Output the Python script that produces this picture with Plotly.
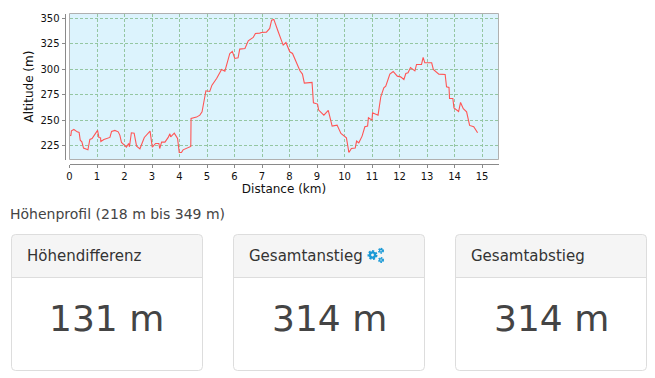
import plotly.graph_objects as go

distance_km = [0.00,0.05,0.07,0.16,0.28,0.35,0.39,0.45,0.51,0.62,0.67,0.74,0.82,1.02,1.07,1.13,1.14,1.25,1.47,1.53,1.65,1.77,1.83,1.89,2.07,2.15,2.18,2.25,2.35,2.44,2.56,2.72,2.93,3.01,3.13,3.25,3.28,3.35,3.47,3.59,3.65,3.68,3.81,3.93,3.99,4.07,4.13,4.41,4.42,4.62,4.74,4.82,4.96,5.10,5.18,5.35,5.53,5.65,5.83,5.92,6.01,6.13,6.19,6.38,6.50,6.68,6.76,6.92,6.98,7.16,7.28,7.35,7.43,7.59,7.77,7.87,8.01,8.11,8.25,8.38,8.47,8.54,8.82,8.87,9.02,9.06,9.25,9.41,9.55,9.73,9.87,10.07,10.16,10.25,10.39,10.44,10.52,10.64,10.74,10.84,10.87,11.00,11.02,11.22,11.32,11.43,11.50,11.65,11.77,11.92,12.04,12.16,12.23,12.31,12.40,12.56,12.62,12.80,12.86,12.92,13.17,13.23,13.43,13.66,13.71,13.80,13.82,13.94,13.98,14.15,14.22,14.32,14.44,14.55,14.70,14.84]
altitude_m = [234.5,235,239.4,240.7,238.4,237.8,230.2,228.6,222.4,221.4,220.7,230.9,231.9,239.8,232.9,232.5,228.9,230.9,232.9,238.8,239.8,238.4,235.2,228,223.4,227,223.7,237.5,237.1,224.3,221.7,232.9,239.1,223.4,227,227,222,228.3,228.3,232.9,236.5,233.5,237.1,231.9,218.1,218.1,220.7,224,251.6,252.9,254.8,258.1,278.8,278.1,284.3,290.9,299.8,298.1,315.5,317.5,310.6,311.2,319.8,320.4,328,331.2,335.2,335.5,336.1,336.5,340.1,348.3,349,336.8,323.7,326.3,317.1,315.5,305.7,298.4,295.2,286.3,287,267,265.7,259.8,254.8,259.4,244,245,236.8,232.5,218.1,222,222.4,229.3,227.6,234.2,243.4,244,252.2,249.9,257.1,254.8,272.9,281.7,283.4,295.2,297.8,293.2,292.5,289.9,295.8,296.5,301.7,298.4,304.7,304.7,311.6,306.3,306.3,299.8,295.2,294.8,282.7,282,271.2,271.2,262,258.4,267.3,261.1,258.1,244.7,243.4,237.5]
x_ticks = list(range(0, 16))
y_ticks = [225, 250, 275, 300, 325, 350]
profile_title = "Höhenprofil (218 m bis 349 m)"
card_titles = ["Höhendifferenz", "Gesamtanstieg", "Gesamtabstieg"]
card_values = ["131 m", "314 m", "314 m"]

W, H = 655, 378
FONT = "DejaVu Sans"
fx = lambda p: p / W
fy = lambda p: 1 - p / H

fig = go.Figure(go.Scatter(x=distance_km, y=altitude_m, mode="lines",
                           line=dict(color="#ff5555", width=1.1), hoverinfo="skip"))

axis_common = dict(showline=True, linecolor="#8a8a8a", linewidth=1, ticks="outside", ticklen=3,
                   tickcolor="#8a8a8a", showgrid=True, gridcolor="#94c6a2", griddash="3px,2px",
                   gridwidth=1, zeroline=False, automargin=False,
                   tickfont=dict(family=FONT, size=10, color="#111"),
                   title_font=dict(family=FONT, size=12, color="#111"))
fig.update_layout(
    width=W, height=H, margin=dict(l=0, r=0, t=0, b=0), autosize=False,
    paper_bgcolor="white", plot_bgcolor="#dcf3fd", showlegend=False,
    font=dict(family=FONT),
    xaxis=dict(domain=[fx(69.5), fx(498.5)], range=[0, 15.6], tickvals=x_ticks, anchor="free",
               position=fy(164), title=dict(text="Distance (km)", standoff=3), **axis_common),
    yaxis=dict(domain=[fy(159.5), fy(13.5)], range=[211.2, 354.8], tickvals=y_ticks, anchor="free",
               position=fx(64.5), title=dict(text="Altitude (m)", standoff=3), **axis_common),
)
fig.add_shape(type="rect", xref="x domain", yref="y domain", x0=0, x1=1, y0=0, y1=1,
              line=dict(color="#b0b0b0", width=1), layer="above")

def rr(x0, y0, x1, y1, r=4):
    return (f"M{fx(x0+r)},{fy(y0)} L{fx(x1-r)},{fy(y0)} Q{fx(x1)},{fy(y0)} {fx(x1)},{fy(y0+r)} "
            f"L{fx(x1)},{fy(y1-r)} Q{fx(x1)},{fy(y1)} {fx(x1-r)},{fy(y1)} L{fx(x0+r)},{fy(y1)} "
            f"Q{fx(x0)},{fy(y1)} {fx(x0)},{fy(y1-r)} L{fx(x0)},{fy(y0+r)} Q{fx(x0)},{fy(y0)} {fx(x0+r)},{fy(y0)} Z")

def head(x0, y0, x1, y1, r=4):
    return (f"M{fx(x0+r)},{fy(y0)} L{fx(x1-r)},{fy(y0)} Q{fx(x1)},{fy(y0)} {fx(x1)},{fy(y0+r)} "
            f"L{fx(x1)},{fy(y1)} L{fx(x0)},{fy(y1)} L{fx(x0)},{fy(y0+r)} Q{fx(x0)},{fy(y0)} {fx(x0+r)},{fy(y0)} Z")

def label(x, y, text, size, color, anchor="left"):
    fig.add_annotation(xref="paper", yref="paper", x=fx(x), y=fy(y), text=text, showarrow=False,
                       xanchor=anchor, yanchor="middle", borderpad=0, borderwidth=0,
                       font=dict(family=FONT, size=size, color=color))

def gear(cx, cy, ring, tooth, w, tw, dash):
    color = "#1b9ad6"
    fig.add_shape(type="circle", xref="paper", yref="paper", x0=fx(cx-ring), x1=fx(cx+ring),
                  y0=fy(cy+ring), y1=fy(cy-ring), line=dict(color=color, width=w))
    fig.add_shape(type="circle", xref="paper", yref="paper", x0=fx(cx-tooth), x1=fx(cx+tooth),
                  y0=fy(cy+tooth), y1=fy(cy-tooth), line=dict(color=color, width=tw, dash=dash))

label(10, 214, profile_title, 14, "#444444")
for left, t, v in zip([11.5, 233.5, 455.5], card_titles, card_values):
    right = left + 191
    fig.add_shape(type="path", xref="paper", yref="paper", path=head(left, 234.5, right, 277.5),
                  fillcolor="#f5f5f5", line=dict(width=0), layer="below")
    fig.add_shape(type="line", xref="paper", yref="paper", x0=fx(left), x1=fx(right), y0=fy(277.5), y1=fy(277.5),
                  line=dict(color="#dddddd", width=1), layer="below")
    fig.add_shape(type="path", xref="paper", yref="paper", path=rr(left, 234.5, right, 370.5),
                  line=dict(color="#dddddd", width=1), layer="below")
    label(left + 15, 255.5, t, 15, "#333333")
    label((left + right) / 2, 318, v, 36, "#444444", "center")

gear(372.5, 255, 2.6, 4, 2.4, 2, "2px,1.6px")
gear(381, 250.7, 1.4, 2.4, 1.4, 1.2, "1.5px,1px")
gear(381, 260, 1.4, 2.4, 1.4, 1.2, "1.5px,1px")

fig.write_html("out.html", config=dict(displayModeBar=False),
               post_script="document.body.style.margin='0';document.body.style.overflow='hidden';")
